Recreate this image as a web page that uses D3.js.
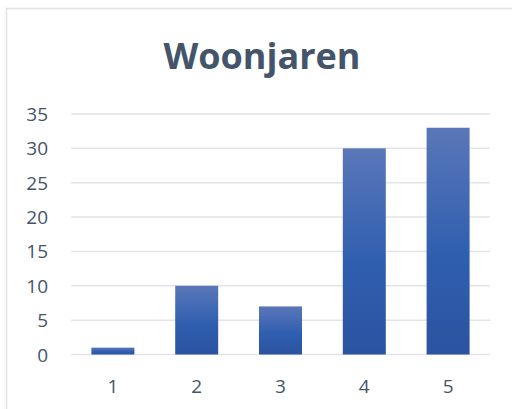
<!DOCTYPE html>
<html>
<head>
<meta charset="utf-8">
<script src="https://cdn.jsdelivr.net/npm/d3@7"></script>
<style>
  html, body { margin: 0; padding: 0; background: #ffffff; }
</style>
</head>
<body>
<div id="chart"></div>
<script>
// Woonjaren - column chart

var chartTitle = "Woonjaren";
var categories = ["1", "2", "3", "4", "5"];
var values = [1, 10, 7, 30, 33];
var yTicks = [0, 5, 10, 15, 20, 25, 30, 35];

var width = 512;
var height = 409;

var margin = { top: 114, right: 22, bottom: 54.5, left: 71 };

var svg = d3.select("#chart")
    .append("svg")
    .attr("width", width)
    .attr("height", height);

// gradient for the bars
var defs = svg.append("defs");
var grad = defs.append("linearGradient")
    .attr("id", "barGrad")
    .attr("x1", 0).attr("y1", 0)
    .attr("x2", 0).attr("y2", 1);
grad.append("stop").attr("offset", "0%").attr("stop-color", "#5a77b8");
grad.append("stop").attr("offset", "55%").attr("stop-color", "#305fb0");
grad.append("stop").attr("offset", "100%").attr("stop-color", "#2b53a1");

// chart area border
svg.append("rect")
    .attr("x", 6.5)
    .attr("y", 8.5)
    .attr("width", width)
    .attr("height", height)
    .attr("fill", "#ffffff")
    .attr("stroke", "#dfe3e8")
    .attr("stroke-width", 1.5);

// title
svg.append("text")
    .attr("x", 262)
    .attr("y", 69)
    .attr("text-anchor", "middle")
    .attr("fill", "#44546a")
    .attr("font-family", "'Open Sans', sans-serif")
    .attr("font-size", "36px")
    .attr("font-weight", "bold")
    .text(chartTitle);

var xScale = d3.scaleBand()
    .domain(categories)
    .range([margin.left, width - margin.right])
    .paddingInner(0.487)
    .paddingOuter(0.2435);

var yScale = d3.scaleLinear()
    .domain([0, 35])
    .range([height - margin.bottom, margin.top]);

// gridlines
svg.selectAll(".grid")
    .data(yTicks)
    .enter()
    .append("line")
    .attr("class", "grid")
    .attr("x1", margin.left)
    .attr("x2", width - margin.right)
    .attr("y1", function(d) { return yScale(d); })
    .attr("y2", function(d) { return yScale(d); })
    .attr("stroke", "#e1e4e9")
    .attr("stroke-width", 1.5);

// y labels
svg.selectAll(".ylab")
    .data(yTicks)
    .enter()
    .append("text")
    .attr("class", "ylab")
    .attr("x", 48)
    .attr("y", function(d) { return yScale(d) + 7; })
    .attr("text-anchor", "end")
    .attr("fill", "#44546a")
    .attr("font-family", "'Open Sans', sans-serif")
    .attr("font-size", "19px")
    .text(function(d) { return d; });

// bars
svg.selectAll(".bar")
    .data(values)
    .enter()
    .append("rect")
    .attr("class", "bar")
    .attr("x", function(d, i) { return xScale(categories[i]); })
    .attr("width", xScale.bandwidth())
    .attr("y", function(d) { return yScale(d); })
    .attr("height", function(d) { return yScale(0) - yScale(d); })
    .attr("fill", "url(#barGrad)");

// x labels
svg.selectAll(".xlab")
    .data(categories)
    .enter()
    .append("text")
    .attr("class", "xlab")
    .attr("x", function(d) { return xScale(d) + xScale.bandwidth() / 2; })
    .attr("y", 393)
    .attr("text-anchor", "middle")
    .attr("fill", "#44546a")
    .attr("font-family", "'Open Sans', sans-serif")
    .attr("font-size", "19px")
    .text(function(d) { return d; });
</script>
</body>
</html>
